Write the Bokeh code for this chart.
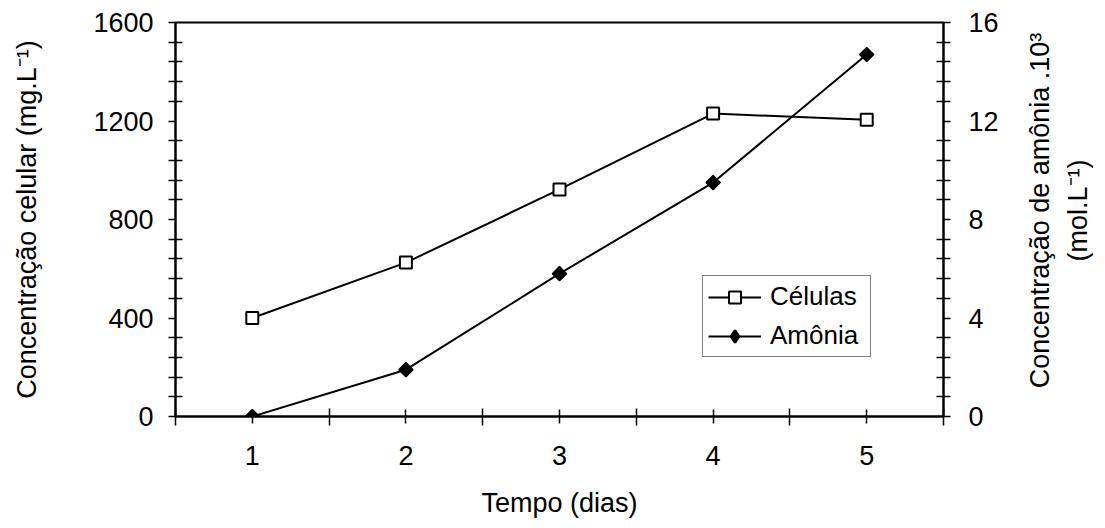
import math

from bokeh.plotting import figure
from bokeh.layouts import row
from bokeh.models import (Range1d, LinearAxis, FixedTicker, Legend, LegendItem,
                          Label, ColumnDataSource)
from bokeh.embed import file_html
from bokeh.resources import INLINE

# Time course of cell growth and ammonia release
dias = [1, 2, 3, 4, 5]
celulas = [400, 625, 922, 1230, 1205]          # mg/L
amonia = [0.0, 1.9, 5.8, 9.5, 14.7]            # mol/L x 10^3

ticks_celulas = [0, 400, 800, 1200, 1600]
ticks_amonia = [0, 4, 8, 12, 16]

titulo_direita = ["Concentração de amônia .10³", "(mol.L⁻¹)"]

FONT = "Liberation Sans"
FS = "27px"

p = figure(width=1010, height=528, output_backend="svg", toolbar_location=None,
           x_range=Range1d(0.5, 5.5), y_range=Range1d(0, 1600),
           min_border_left=175, min_border_right=67,
           min_border_top=22, min_border_bottom=112)
p.extra_y_ranges = {"amonia": Range1d(0, 16)}
p.xgrid.visible = False
p.ygrid.visible = False
p.outline_line_color = "black"
p.outline_line_width = 2
p.background_fill_color = "white"
p.border_fill_color = "white"


def style_axis(ax):
    ax.axis_line_color = "black"
    ax.axis_line_width = 2
    ax.major_tick_line_color = "black"
    ax.major_tick_line_width = 1.5
    ax.minor_tick_line_color = "black"
    ax.minor_tick_line_width = 1.5
    ax.major_label_text_font = FONT
    ax.major_label_text_font_size = FS
    ax.major_label_text_color = "black"
    ax.axis_label_text_font = FONT
    ax.axis_label_text_font_size = FS
    ax.axis_label_text_font_style = "normal"
    ax.axis_label_text_color = "black"


# x axis: day labels, with tick marks between days as well
xax = p.xaxis[0]
style_axis(xax)
xax.ticker = FixedTicker(ticks=dias, minor_ticks=[d + 0.5 for d in [0] + dias])
xax.major_tick_in = 7
xax.major_tick_out = 7
xax.minor_tick_in = 8
xax.minor_tick_out = 9
xax.major_label_standoff = 20
xax.axis_label = "Tempo (dias)"
xax.axis_label_standoff = 20

# left axis: cell concentration
yax = p.yaxis[0]
style_axis(yax)
yax.ticker = FixedTicker(ticks=ticks_celulas,
                         minor_ticks=[v for v in range(0, 1601, 80) if v % 400])
yax.major_tick_in = 0
yax.major_tick_out = 7
yax.minor_tick_in = 7
yax.minor_tick_out = 7
yax.major_label_standoff = 15
yax.axis_label = "Concentração celular (mg.L⁻¹)"
yax.axis_label_standoff = 48

# right axis: ammonia concentration
rax = LinearAxis(y_range_name="amonia")
style_axis(rax)
rax.ticker = FixedTicker(ticks=ticks_amonia,
                         minor_ticks=[v * 0.8 for v in range(21) if v % 5])
rax.major_tick_in = 0
rax.major_tick_out = 7
rax.minor_tick_in = 7
rax.minor_tick_out = 7
rax.major_label_standoff = 18
p.add_layout(rax, "right")

l1 = p.line(dias, celulas, line_color="black", line_width=2)
m1 = p.scatter(dias, celulas, marker="square", size=12, fill_color="white",
               line_color="black", line_width=2)
l2 = p.line(dias, amonia, y_range_name="amonia", line_color="black", line_width=2)
m2 = p.scatter(dias, amonia, y_range_name="amonia", marker="square", size=10,
               angle=math.pi / 4, fill_color="black", line_color="black",
               line_width=1.5)
# legend key for the ammonia markers (legend keys are drawn unrotated)
chave = p.scatter("x", "y", source=ColumnDataSource(dict(x=[math.nan], y=[math.nan])),
                  y_range_name="amonia", marker="diamond", fill_color="black",
                  line_color="black", line_width=2.5)

legend = Legend(items=[LegendItem(label="Células", renderers=[l1, m1]),
                       LegendItem(label="Amônia", renderers=[l2, chave])],
                location=(527, 59))
legend.border_line_color = "black"
legend.border_line_width = 1
legend.background_fill_color = "white"
legend.background_fill_alpha = 1
legend.label_text_font = FONT
legend.label_text_font_size = "26px"
legend.label_text_color = "black"
legend.glyph_width = 53
legend.glyph_height = 30
legend.label_height = 30
legend.label_width = 95
legend.label_standoff = 9
legend.padding = 5
legend.spacing = 8
legend.margin = 0
p.add_layout(legend, "center")

# narrow panel holding the right-hand title, two lines reading bottom-to-top;
# its frame lines up with the main frame, so offsets are from that frame's bottom
t = figure(width=95, height=528, output_backend="svg", toolbar_location=None,
           x_range=Range1d(0, 1), y_range=Range1d(0, 1),
           min_border=0, outline_line_color=None)
t.axis.visible = False
t.grid.visible = False
t.background_fill_color = "white"
t.border_fill_color = "white"
for texto, dx in zip(titulo_direita, [29, 67]):
    t.add_layout(Label(x=dx, y=206, x_units="screen", y_units="screen",
                       text=texto, angle=math.pi / 2,
                       text_align="center", text_baseline="middle",
                       text_font=FONT, text_font_size=FS, text_color="black"))

open("out.html", "w").write(file_html(row(p, t), INLINE))
